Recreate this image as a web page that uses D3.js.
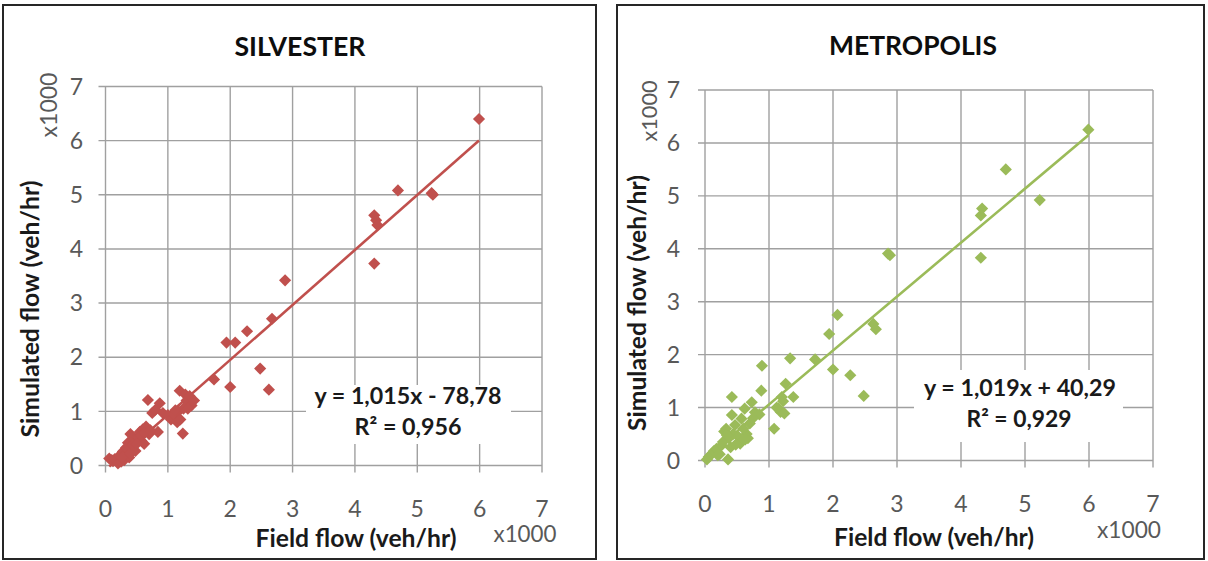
<!DOCTYPE html>
<html><head><meta charset="utf-8">
<script src="https://cdn.jsdelivr.net/npm/d3@7"></script>
<style>body{margin:0;background:#fff}svg{display:block}text{font-family:Lato,'Open Sans',sans-serif}</style>
</head><body><svg id="c" width="1208" height="561"></svg>
<script>
// ---------- data (thousands of veh/hr) ----------
const ticks = [0, 1, 2, 3, 4, 5, 6, 7];
const chartTitles = ["SILVESTER", "METROPOLIS"];
const silvesterField = [0.06,0.10,0.12,0.15,0.20,0.22,0.25,0.28,0.30,0.32,0.35,0.36,0.38,0.40,0.42,0.45,0.48,0.52,0.55,0.58,0.60,0.62,0.65,0.68,0.70,0.75,0.80,0.84,0.87,0.92,1.00,1.05,1.10,1.15,1.17,1.19,1.20,1.24,1.25,1.28,1.30,1.35,1.38,1.42,1.74,1.94,2.08,2.27,2.00,2.48,2.62,2.67,2.88,4.31,4.31,4.34,4.36,4.69,5.23,5.25,5.99,
  0.27,0.33,0.40,0.44,0.50,0.57,0.63,0.72,1.12,1.32];
const silvesterSim   = [0.13,0.10,0.08,0.12,0.04,0.18,0.07,0.26,0.10,0.20,0.30,0.42,0.15,0.58,0.36,0.47,0.27,0.52,0.62,0.45,0.67,0.40,0.72,1.21,0.58,0.97,1.03,0.62,1.15,0.97,0.93,0.85,0.94,0.80,1.00,1.38,0.85,0.59,1.05,1.31,1.20,1.28,1.11,1.20,1.59,2.27,2.27,2.48,1.45,1.79,1.40,2.71,3.42,3.73,4.62,4.53,4.44,5.08,5.03,5.00,6.40,
  0.15,0.33,0.22,0.38,0.40,0.55,0.60,0.65,1.02,1.05];
const metropolisField = [0.03,0.06,0.10,0.14,0.18,0.23,0.26,0.30,0.33,0.36,0.37,0.40,0.42,0.42,0.44,0.47,0.52,0.55,0.57,0.62,0.65,0.67,0.70,0.73,0.78,0.85,0.89,0.88,1.08,1.15,1.18,1.20,1.22,1.24,1.26,1.33,1.38,1.72,1.94,2.00,2.07,2.27,2.48,2.63,2.67,2.86,2.89,4.31,4.31,4.33,4.70,5.23,5.99,
  0.20,0.28,0.34,0.48,0.60,0.63,0.75,1.12];
const metropolisSim   = [0.02,0.07,0.12,0.18,0.22,0.12,0.29,0.55,0.60,0.02,0.42,0.25,1.20,0.86,0.50,0.67,0.45,0.32,0.79,0.98,0.50,0.42,0.70,1.10,0.91,0.87,1.79,1.32,0.60,0.98,0.92,1.20,1.12,0.89,1.45,1.93,1.20,1.91,2.39,1.72,2.75,1.61,1.22,2.58,2.48,3.91,3.88,3.83,4.63,4.76,5.50,4.92,6.25,
  0.10,0.35,0.48,0.30,0.60,0.40,0.80,1.00];
const trendSlope = [1.015, 1.019];
const trendIntercept = [-78.78, 40.29];          // veh/hr
const equationText = ["y = 1,015x - 78,78", "y = 1,019x + 40,29"];
const r2Text = ["R² = 0,956", "R² = 0,929"];
const xAxisTitle = "Field flow (veh/hr)";
const yAxisTitle = "Simulated flow (veh/hr)";
const unitLabel = "x1000";
const seriesColors = ["#C0504D", "#9BBB59"];

// ---------- layout ----------
const panels = [
  {frame:[3,5,593,554], px:[105.5,542], py:[465.5,86.5], title:[300,56,131], xt:[356,547,201], yt:[39,309,257],
   ux:[525,542,63], uy:[57,105,65], eq:[408,404,187], r2:[408,435,107], box:[306,385,205,59], yLab:83, xLab:517,
   fx:silvesterField, fy:silvesterSim},
  {frame:[617,5,587,554], px:[705,1153], py:[460.5,90], title:[913,55,168], xt:[934,546,200], yt:[646,303,256],
   ux:[1129,538,64], uy:[657,111,61], eq:[1020,396,192], r2:[1019,427,105], box:[914,370,209,72], yLab:680, xLab:512,
   fx:metropolisField, fy:metropolisSim}
];

const svg = d3.select("#c");

function fit(t, target) {
  const w = t.node().getComputedTextLength();
  const fs = parseFloat(t.attr("font-size"));
  t.attr("font-size", (fs * target / w).toFixed(2));
  return t;
}

panels.forEach((p, i) => {
  const g = svg.append("g");
  g.append("rect").attr("x", p.frame[0]).attr("y", p.frame[1]).attr("width", p.frame[2]).attr("height", p.frame[3])
    .attr("fill", "#fff").attr("stroke", "#262626").attr("stroke-width", 2);

  const x = d3.scaleLinear().domain([0, 7]).range(p.px);
  const y = d3.scaleLinear().domain([0, 7]).range(p.py);
  const grid = "#a0a0a0";

  // grid lines
  g.selectAll(".vg").data(ticks).join("line")
    .attr("x1", d => x(d)).attr("x2", d => x(d)).attr("y1", y(7)).attr("y2", y(0) + 7)
    .attr("stroke", grid).attr("stroke-width", 1.4);
  g.selectAll(".hg").data(ticks).join("line")
    .attr("y1", d => y(d)).attr("y2", d => y(d)).attr("x1", x(0) - 7).attr("x2", x(7))
    .attr("stroke", grid).attr("stroke-width", 1.4);

  // tick labels
  g.selectAll(".yl").data(ticks).join("text")
    .attr("x", p.yLab).attr("y", d => y(d)).attr("dy", "0.36em").attr("text-anchor", "end")
    .attr("font-size", 23).attr("fill", "#595959").text(d => d);
  g.selectAll(".xl").data(ticks).join("text")
    .attr("x", d => x(d)).attr("y", p.xLab).attr("text-anchor", "middle")
    .attr("font-size", 23).attr("fill", "#595959").text(d => d);

  // trend line
  const xs = d3.extent(p.fx);
  const f = v => trendSlope[i] * v + trendIntercept[i] / 1000;
  g.append("path").datum(xs)
    .attr("d", d3.line().x(d => x(d)).y(d => y(f(d))))
    .attr("stroke", seriesColors[i]).attr("stroke-width", 2.6).attr("fill", "none");

  // points
  const sym = d3.symbol().type(d3.symbolSquare).size(74);
  g.selectAll(".pt").data(p.fx.map((v, k) => [v, p.fy[k]])).join("path")
    .attr("d", sym)
    .attr("transform", d => `translate(${x(d[0])},${y(d[1])}) rotate(45)`)
    .attr("fill", seriesColors[i]);

  // equation box
  g.append("rect").attr("x", p.box[0]).attr("y", p.box[1]).attr("width", p.box[2]).attr("height", p.box[3]).attr("fill", "#fff");
  fit(g.append("text").attr("x", p.eq[0]).attr("y", p.eq[1]).attr("text-anchor", "middle")
    .attr("font-size", 24).attr("font-weight", 700).attr("fill", "#1a1a1a").text(equationText[i]), p.eq[2]);
  fit(g.append("text").attr("x", p.r2[0]).attr("y", p.r2[1]).attr("text-anchor", "middle")
    .attr("font-size", 24).attr("font-weight", 700).attr("fill", "#1a1a1a").text(r2Text[i]), p.r2[2]);

  // titles
  fit(g.append("text").attr("x", p.title[0]).attr("y", p.title[1]).attr("text-anchor", "middle")
    .attr("font-size", 28).attr("font-weight", 700).attr("fill", "#0d0d0d").text(chartTitles[i]), p.title[2]);
  fit(g.append("text").attr("x", p.xt[0]).attr("y", p.xt[1]).attr("text-anchor", "middle")
    .attr("font-size", 24).attr("font-weight", 700).attr("fill", "#1a1a1a").text(xAxisTitle), p.xt[2]);
  fit(g.append("text").attr("transform", `translate(${p.yt[0]},${p.yt[1]}) rotate(-90)`).attr("text-anchor", "middle")
    .attr("font-size", 24).attr("font-weight", 700).attr("fill", "#1a1a1a").text(yAxisTitle), p.yt[2]);
  fit(g.append("text").attr("x", p.ux[0]).attr("y", p.ux[1]).attr("text-anchor", "middle")
    .attr("font-size", 23).attr("fill", "#595959").text(unitLabel), p.ux[2]);
  fit(g.append("text").attr("transform", `translate(${p.uy[0]},${p.uy[1]}) rotate(-90)`).attr("text-anchor", "middle")
    .attr("font-size", 23).attr("fill", "#595959").text(unitLabel), p.uy[2]);
});
</script></body></html>
